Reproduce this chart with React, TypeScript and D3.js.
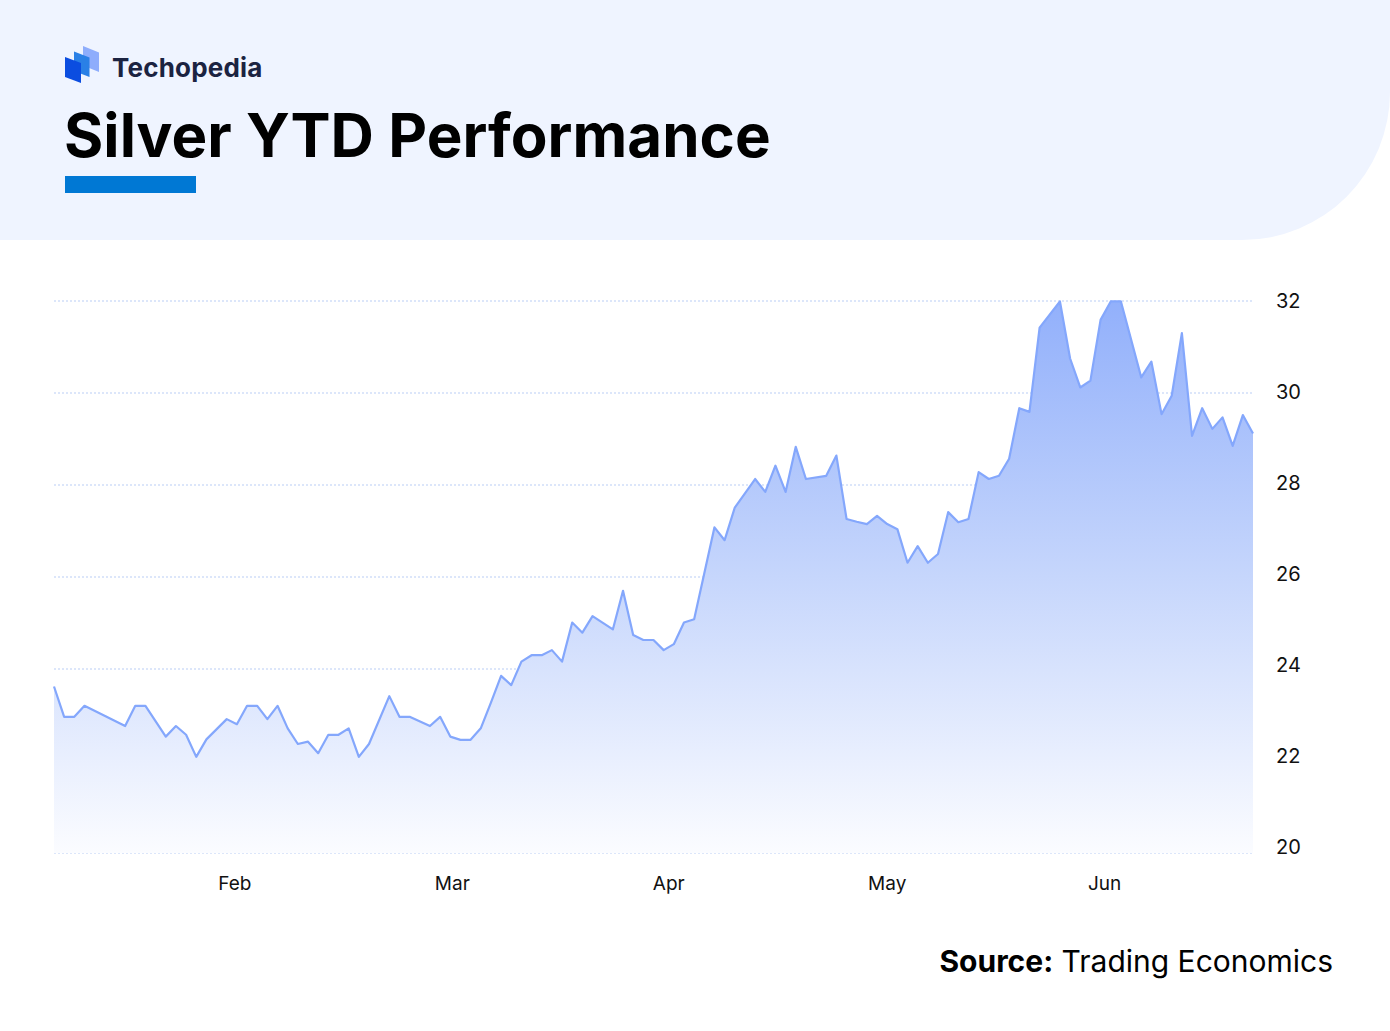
import * as d3 from "d3";

// trading-day index (x) and closing price in USD/oz (y)
const DAY = [
  0, 1, 2, 3, 7, 8, 9, 11, 12, 13, 14, 15, 17, 18, 19, 20, 21, 22, 23, 24, 25, 26, 27, 28, 29, 30, 31, 33, 34, 35,
  37, 38, 39, 40, 41, 42, 43, 44, 45, 46, 47, 48, 49, 50, 51, 52, 53, 55, 56, 57, 58, 59, 60, 61, 62, 63, 65, 66, 67,
  69, 70, 71, 72, 73, 74, 76, 77, 78, 79, 80, 81, 82, 83, 84, 85, 86, 87, 88, 89, 90, 91, 92, 93, 94, 95, 96, 97, 99,
  100, 101, 102, 103, 104, 105, 107, 108, 109, 110, 111, 112, 113, 114, 115, 116, 117, 118,
];
const PRICE = [
  23.62, 22.96, 22.96, 23.2, 22.76, 23.2, 23.2, 22.53, 22.76, 22.57, 22.09, 22.47, 22.91, 22.8, 23.2, 23.2, 22.91,
  23.2, 22.71, 22.37, 22.42, 22.17, 22.57, 22.57, 22.71, 22.09, 22.37, 23.41, 22.96, 22.96, 22.76, 22.96, 22.53,
  22.46, 22.46, 22.71, 23.27, 23.85, 23.65, 24.16, 24.3, 24.3, 24.41, 24.16, 25.01, 24.79, 25.15, 24.86, 25.7, 24.74,
  24.63, 24.63, 24.41, 24.54, 25.01, 25.08, 27.08, 26.8, 27.51, 28.13, 27.85, 28.42, 27.85, 28.83, 28.13, 28.2,
  28.64, 27.26, 27.2, 27.15, 27.33, 27.15, 27.04, 26.31, 26.67, 26.31, 26.5, 27.41, 27.19, 27.26, 28.28, 28.13, 28.2,
  28.57, 29.67, 29.59, 31.42, 31.99, 30.75, 30.12, 30.27, 31.59, 31.99, 31.99, 30.34, 30.68, 29.54, 29.94, 31.3,
  29.07, 29.67, 29.22, 29.47, 28.85, 29.52, 29.12,
];

const MONTHS = ["Feb", "Mar", "Apr", "May", "Jun"];
const MONTH_AT = [17.8, 39.2, 60.5, 82.0, 103.4];
const Y_TICKS = [20, 22, 24, 26, 28, 30, 32];

const W = 1390;
const H = 1031;
const m = { top: 301, right: 137, bottom: 178, left: 54 };

const FONT = "Inter, 'Noto Sans', sans-serif";

export default function App() {
  const x = d3.scaleLinear().domain([0, 118]).range([m.left, W - m.right]);
  const y = d3.scaleLinear().domain([20, 32]).range([H - m.bottom, m.top]);
  // the axis labels sit a touch tighter than the grid lines
  const yLab = d3.scaleLinear().domain([20, 32]).range([H - m.bottom - 6, m.top]);

  const pts = DAY.map((d, i) => ({ d, v: PRICE[i] }));
  const line = d3
    .line<{ d: number; v: number }>()
    .x((p) => x(p.d))
    .y((p) => y(p.v));
  const area = d3
    .area<{ d: number; v: number }>()
    .x((p) => x(p.d))
    .y0(y(20))
    .y1((p) => y(p.v));

  const hdrH = 240;
  const r = 148;

  return (
    <>
      <style>{`body{margin:0;background:#fff}`}</style>
      <svg width={W} height={H} style={{ display: "block", fontFamily: FONT }}>
        <defs>
          <linearGradient id="fill" gradientUnits="userSpaceOnUse" x1={0} x2={0} y1={y(32)} y2={y(20)}>
            <stop offset="0%" stopColor="#92b0fb" />
            <stop offset="50%" stopColor="#c6d6fc" />
            <stop offset="100%" stopColor="#fbfcff" />
          </linearGradient>
        </defs>

        {/* header band */}
        <path d={`M0,0H${W}V${hdrH - r}A${r},${r} 0 0 1 ${W - r},${hdrH}H0Z`} fill="#eff4ff" />

        {/* logo */}
        <g>
          <path d="M83,46L99,52.5V72L83,65.5Z" fill="#8eadfc" />
          <path d="M74,51.5L89.5,57.5V77L74,71Z" fill="#2a80e6" />
          <path d="M65,57L81,63V83L65,77Z" fill="#0b4de0" />
          <text x={112} y={77} fontSize={26} fontWeight={700} fill="#1b2341" letterSpacing={0.2}>
            Techopedia
          </text>
        </g>

        <text x={64} y={157} fontSize={60} fontWeight={700} fill="#000" letterSpacing={0.05}>
          Silver YTD Performance
        </text>
        <rect x={65} y={176} width={131} height={17} fill="#0078d4" />

        {/* grid */}
        {Y_TICKS.map((t) => (
          <g key={t}>
            <line
              x1={m.left}
              x2={W - m.right}
              y1={y(t)}
              y2={y(t)}
              stroke="#b9cdf5"
              strokeWidth={1}
              strokeDasharray="2 2"
            />
            <text x={1276} y={yLab(t) + 7} fontSize={20} fill="#111">
              {t}
            </text>
          </g>
        ))}

        <path d={area(pts)!} fill="url(#fill)" />
        <path d={line(pts)!} fill="none" stroke="#84a7fc" strokeWidth={2.2} strokeLinejoin="round" />

        {MONTHS.map((mo, i) => (
          <text key={mo} x={x(MONTH_AT[i])} y={890} fontSize={19} fill="#111" textAnchor="middle">
            {mo}
          </text>
        ))}

        <text x={1333} y={972} fontSize={30} fill="#000" textAnchor="end">
          <tspan fontWeight={700}>Source:</tspan> Trading Economics
        </text>
      </svg>
    </>
  );
}
